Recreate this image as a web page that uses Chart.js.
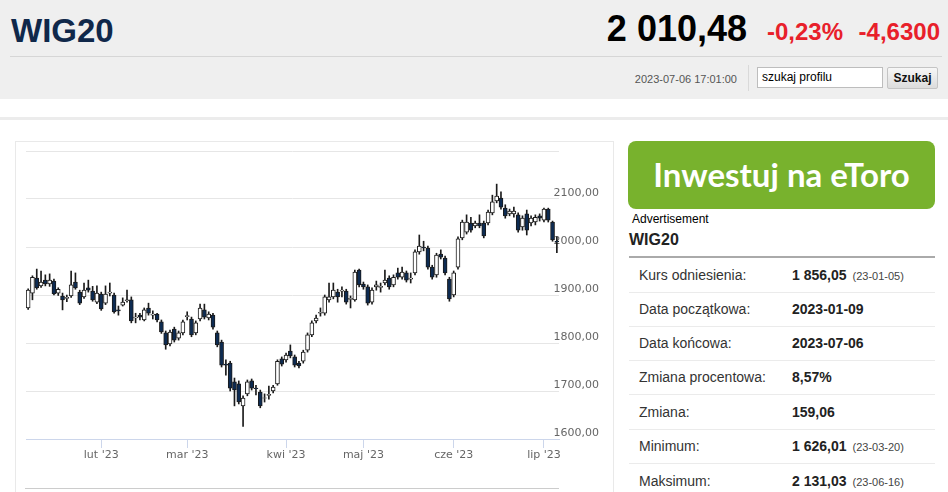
<!DOCTYPE html>
<html lang="pl">
<head>
<meta charset="utf-8">
<title>WIG20</title>
<script src="https://cdn.jsdelivr.net/npm/chart.js@4.4.0/dist/chart.umd.min.js"></script>
<style>
  body { margin: 0; width: 948px; height: 492px; overflow: hidden; background: #fff; position: relative;
         font-family: "Liberation Sans", Arial, sans-serif; }
  .abs { position: absolute; white-space: nowrap; }
  #top { left: 0; top: 0; width: 948px; height: 99px; background: #efefef; }
  #name { left: 11px; top: 14px; font-size: 33px; line-height: 33px; font-weight: bold; color: #10284a; }
  #price { right: 201px; top: 11px; font-size: 36px; line-height: 36px; font-weight: bold; color: #000; }
  .chg { top: 20px; font-size: 24px; line-height: 24px; font-weight: bold; color: #e8202a; }
  #hr { left: 10px; top: 56px; width: 932px; height: 1px; background: #d6d6d6; }
  #stamp { right: 211px; top: 73px; font-size: 11px; line-height: 12px; color: #555; }
  #sep { left: 748px; top: 65px; width: 1px; height: 26px; background: #d9d9d9; }
  #search { left: 757px; top: 67px; width: 120px; height: 19px; border: 1px solid #bdbdbd; background: #fff;
            font-size: 12px; line-height: 19px; padding-left: 4px; color: #000; }
  #btn { left: 887px; top: 67px; width: 49px; height: 20px; border: 1px solid #c4c4c4; border-radius: 2px;
         background: linear-gradient(#f7f7f7, #dcdcdc); font-size: 12px; line-height: 20px; font-weight: bold;
         text-align: center; color: #111; }
  #band { left: 0; top: 117px; width: 948px; height: 3px; background: #ececec; }
  #box { left: 15px; top: 141px; width: 597px; height: 360px; border: 1px solid #e9e9e9; }
  #chart { left: 15px; top: 142px; }
  #nav { left: 25px; top: 488px; width: 534px; height: 1px; background: #cccccc; }
  #ad { left: 628px; top: 141px; width: 307px; height: 68px; background: #78b22d; border-radius: 8px;
        color: #fff; font-family: Lato, "Open Sans", sans-serif; font-weight: bold; font-size: 33px;
        line-height: 66px; text-align: center; }
  #adv { left: 632px; top: 212px; font-size: 12px; line-height: 14px; color: #000; }
  #sub { left: 629px; top: 231px; font-size: 16px; line-height: 18px; font-weight: bold; color: #222; }
  #line { left: 629px; top: 256px; width: 306px; height: 2px; background: #aaaaaa; }
  .row { left: 629px; width: 306px; height: 34px; line-height: 34px; border-bottom: 1px solid #ebebeb; font-size: 14px; }
  .row .l { position: absolute; left: 10px; color: #333; }
  .row .v { position: absolute; left: 163px; font-weight: bold; color: #222; }
  .row .d { font-size: 11px; font-weight: normal; color: #444; margin-left: 6px; }
</style>
</head>
<body>
<div class="abs" id="top"></div>
<div class="abs" id="name">WIG20</div>
<div class="abs" id="price">2 010,48</div>
<div class="abs chg" style="right:105px">-0,23%</div>
<div class="abs chg" style="right:8px">-4,6300</div>
<div class="abs" id="hr"></div>
<div class="abs" id="stamp">2023-07-06 17:01:00</div>
<div class="abs" id="sep"></div>
<div class="abs" id="search">szukaj profilu</div>
<div class="abs" id="btn">Szukaj</div>
<div class="abs" id="band"></div>

<div class="abs" id="box"></div>
<canvas class="abs" id="chart" width="598" height="350"></canvas>
<div class="abs" id="nav"></div>

<div class="abs" id="ad">Inwestuj na eToro</div>
<div class="abs" id="adv">Advertisement</div>
<div class="abs" id="sub">WIG20</div>
<div class="abs" id="line"></div>
<div class="abs row" style="top:258px"><span class="l">Kurs odniesienia:</span><span class="v">1 856,05<span class="d">(23-01-05)</span></span></div>
<div class="abs row" style="top:292px"><span class="l">Data początkowa:</span><span class="v">2023-01-09</span></div>
<div class="abs row" style="top:326px"><span class="l">Data końcowa:</span><span class="v">2023-07-06</span></div>
<div class="abs row" style="top:360px"><span class="l">Zmiana procentowa:</span><span class="v">8,57%</span></div>
<div class="abs row" style="top:395px"><span class="l">Zmiana:</span><span class="v">159,06</span></div>
<div class="abs row" style="top:429px"><span class="l">Minimum:</span><span class="v">1 626,01<span class="d">(23-03-20)</span></span></div>
<div class="abs row" style="top:464px"><span class="l">Maksimum:</span><span class="v">2 131,03<span class="d">(23-06-16)</span></span></div>

<script>
// sesje WIG20, 2023-01-09 .. 2023-07-06
const dates = [
	'2023-01-09','2023-01-10','2023-01-11','2023-01-12','2023-01-13','2023-01-16','2023-01-17','2023-01-18','2023-01-19','2023-01-20',
	'2023-01-23','2023-01-24','2023-01-25','2023-01-26','2023-01-27','2023-01-30','2023-01-31',
	'2023-02-01','2023-02-02','2023-02-03','2023-02-06','2023-02-07','2023-02-08','2023-02-09','2023-02-10','2023-02-13','2023-02-14',
	'2023-02-15','2023-02-16','2023-02-17','2023-02-20','2023-02-21','2023-02-22','2023-02-23','2023-02-24','2023-02-27','2023-02-28',
	'2023-03-01','2023-03-02','2023-03-03','2023-03-06','2023-03-07','2023-03-08','2023-03-09','2023-03-10','2023-03-13','2023-03-14',
	'2023-03-15','2023-03-16','2023-03-17','2023-03-20','2023-03-21','2023-03-22','2023-03-23','2023-03-24','2023-03-27','2023-03-28',
	'2023-03-29','2023-03-30','2023-03-31',
	'2023-04-03','2023-04-04','2023-04-05','2023-04-06','2023-04-11','2023-04-12','2023-04-13','2023-04-14','2023-04-17','2023-04-18',
	'2023-04-19','2023-04-20','2023-04-21','2023-04-24','2023-04-25','2023-04-26','2023-04-27','2023-04-28',
	'2023-05-02','2023-05-04','2023-05-05','2023-05-08','2023-05-09','2023-05-10','2023-05-11','2023-05-12','2023-05-15','2023-05-16',
	'2023-05-17','2023-05-18','2023-05-19','2023-05-22','2023-05-23','2023-05-24','2023-05-25','2023-05-26','2023-05-29','2023-05-30',
	'2023-05-31',
	'2023-06-01','2023-06-02','2023-06-05','2023-06-06','2023-06-07','2023-06-09','2023-06-12','2023-06-13','2023-06-14','2023-06-15',
	'2023-06-16','2023-06-19','2023-06-20','2023-06-21','2023-06-22','2023-06-23','2023-06-26','2023-06-27','2023-06-28','2023-06-29',
	'2023-06-30',
	'2023-07-03','2023-07-04','2023-07-05','2023-07-06'
];

const opens = [
	1873,1904,1935,1919,1931,1923,1929,1904,1898,1893, 1898,1927,1906,1896,1915,1908,1885,
	1902,1883,1904,1900,1869,1879,1888,1890,1852,1858, 1848,1873,1858,1860,1844,1821,1798,1829,1810,1821,
	1855,1850,1821,1850,1869,1852,1858,1821,1802,1756, 1758,1719,1715,1669,1694,1721,1706,1698,1685,1691,
	1700,1715,1767,
	1765,1783,1771,1758,1762,1785,1817,1846,1862,1862, 1890,1896,1906,1908,1908,1891,1890,1952,
	1923,1917,1885,1917,1916,1925,1935,1921,1946,1937, 1946,1933,1946,1990,2000,1998,1958,1942,1985,1977,
	1933,
	1900,1958,2019,2031,2050,2044,2050,2050,2050,2071, 2096,2102,2081,2069,2069,2067,2042,2069,2050,2052,
	2065,
	2056,2079,2052,2012
];
const highs = [
	1913,1940,1954,1950,1942,1944,1933,1915,1904,1900, 1950,1946,1910,1925,1931,1918,1919,
	1906,1919,1925,1904,1877,1894,1910,1896,1862,1862, 1873,1883,1867,1862,1848,1825,1827,1833,1825,1848,
	1865,1854,1846,1881,1881,1865,1862,1825,1806,1765, 1762,1727,1721,1690,1723,1725,1712,1702,1694,1710,
	1712,1765,1771,
	1779,1796,1775,1762,1785,1821,1846,1858,1873,1900, 1925,1925,1912,1917,1912,1898,1952,1954,
	1927,1921,1915,1929,1925,1952,1940,1942,1956,1958, 1950,1946,1994,2025,2012,2002,1962,1987,1994,1981,
	1937,
	1950,2021,2056,2067,2062,2054,2067,2054,2077,2108, 2131,2115,2088,2079,2083,2071,2065,2077,2065,2067,
	2069,
	2081,2081,2054,2021
];
const lows = [
	1870,1890,1912,1916,1919,1918,1900,1899,1869,1886, 1895,1912,1880,1893,1906,1887,1882,
	1868,1880,1898,1862,1858,1877,1885,1842,1842,1848, 1846,1858,1850,1844,1820,1787,1794,1802,1806,1817,
	1848,1813,1817,1846,1850,1848,1829,1792,1750,1733, 1700,1669,1673,1626,1690,1702,1692,1665,1677,1683,
	1696,1712,1752,
	1760,1769,1750,1748,1758,1781,1813,1842,1856,1858, 1885,1892,1885,1896,1881,1873,1887,1917,
	1912,1879,1881,1910,1906,1921,1912,1917,1933,1933, 1927,1925,1942,1985,1992,1954,1933,1937,1975,1942,
	1887,
	1896,1954,2015,2027,2031,2040,2040,2019,2046,2067, 2092,2079,2060,2065,2062,2031,2035,2025,2044,2046,
	2054,
	2052,2052,2012,1988
];
const closes = [
	1910,1937,1915,1927,1923,1931,1902,1912,1890,1895, 1921,1915,1883,1910,1910,1890,1904,
	1871,1902,1906,1865,1867,1885,1890,1846,1854,1854, 1869,1862,1860,1848,1823,1796,1823,1806,1821,1844,
	1857,1817,1842,1873,1854,1860,1833,1796,1754,1754, 1706,1702,1677,1685,1719,1706,1705,1669,1686,1693,
	1708,1762,1756,
	1775,1773,1754,1752,1781,1817,1842,1852,1864,1896, 1896,1910,1896,1910,1885,1893,1948,1921,
	1917,1883,1910,1921,1918,1931,1917,1937,1937,1948, 1931,1935,1990,2002,1998,1958,1937,1983,1979,1946,
	1892,
	1946,2017,2052,2052,2035,2050,2044,2023,2073,2094, 2106,2083,2065,2075,2075,2035,2060,2035,2060,2062,
	2060,
	2079,2056,2015,2010.48
];

const monthTickDates = ['2023-02-01', '2023-03-01', '2023-04-03', '2023-05-02', '2023-06-01', '2023-07-03'];
const monthTickLabels = ["lut '23", "mar '23", "kwi '23", "maj '23", "cze '23", "lip '23"];

const upColor = '#ffffff';
const downColor = '#0d2b52';
const lineColor = '#1b1b1b';

Chart.defaults.font.family = '"DejaVu Sans", Verdana, sans-serif';
Chart.defaults.font.size = 11;
Chart.defaults.color = '#666666';

let chartID = document.getElementById('chart');
new Chart(chartID, {
	type: 'bar',
	data: {
		labels: dates,
		datasets: [
		{
			label: 'korpus',
			data: opens.map((o, i) => [o, closes[i]]),
			backgroundColor: closes.map((c, i) => c >= opens[i] ? upColor : downColor),
			borderColor: lineColor,
			borderWidth: 1,
			borderSkipped: false,
			barThickness: 4,
			grouped: false,
			order: 0
		},
		{
			label: 'cień',
			data: lows.map((l, i) => [l, highs[i]]),
			backgroundColor: lineColor,
			barThickness: 1,
			grouped: false,
			order: 1
		},
	]
	},
	options: {
		responsive: false,
		animation: false,
		devicePixelRatio: 1,
		layout: { padding: { left: 11, top: 9, right: 0, bottom: 0 } },
		plugins: {
			legend: { display: false },
			tooltip: { enabled: false },
		},
		scales: {
			x: {
				offset: true,
				grid: { display: true, drawOnChartArea: false, drawTicks: true, tickLength: 9, offset: false, color: '#ccd6eb' },
				border: { display: true, color: '#ccd6eb' },
				afterBuildTicks: s => { s.ticks = monthTickDates.map(d => ({ value: dates.indexOf(d) })); },
				afterFit: s => { s.height = 53; },
				ticks: {
					autoSkip: false,
					maxRotation: 0,
					padding: 1,
					color: '#666666',
					callback: (value) => monthTickLabels[monthTickDates.indexOf(dates[value])]
				}
			},
			y: {
				position: 'right',
				min: 1600,
				max: 2200,
				grid: { color: '#e6e6e6', drawTicks: false },
				border: { display: false },
				afterFit: s => { s.width = 54; s.paddingTop = 0; s.paddingBottom = 0; },
				ticks: {
					stepSize: 100,
					mirror: true,
					padding: 40,
					labelOffset: -6,
					color: '#666666',
					callback: v => v === 2200 ? '' : v.toFixed(2).replace('.', ',')
				}
			}
		}
	}
});
</script>
</body>
</html>
